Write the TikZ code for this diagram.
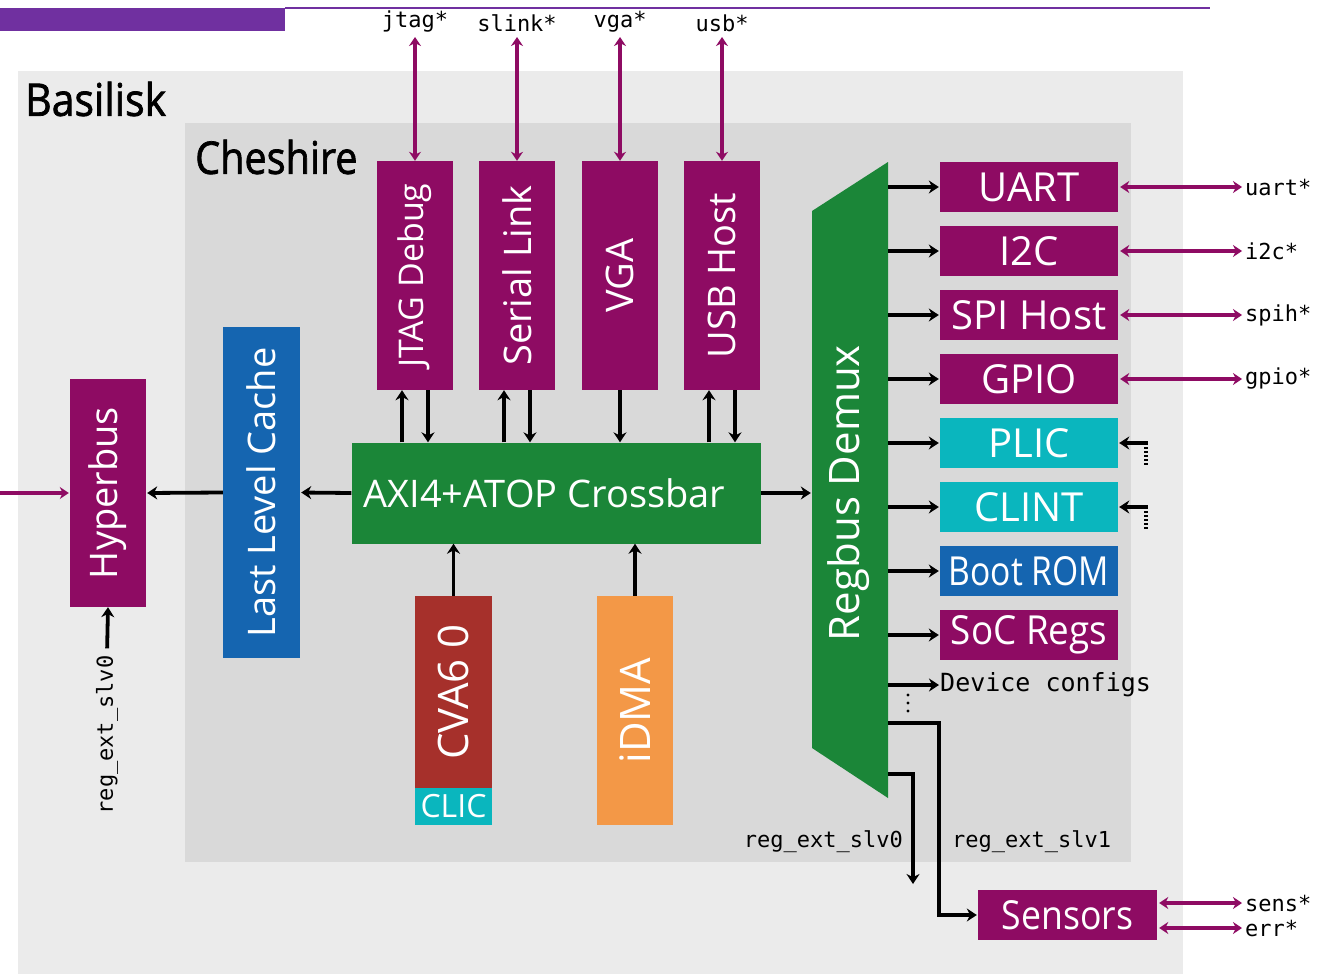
\documentclass[tikz,border=0pt]{standalone}
\usepackage{fontspec}
\setmainfont{Open Sans}
\newfontfamily\titlef{Open Sans}[FakeBold=1.6]
\newfontfamily\monof{DejaVu Sans Mono}
\usetikzlibrary{arrows.meta,calc}
\definecolor{purp}{HTML}{8E0B63}
\definecolor{topbar}{HTML}{7030A0}
\definecolor{cyanb}{HTML}{0AB6BE}
\definecolor{blueb}{HTML}{1565B0}
\definecolor{greenb}{HTML}{1B8638}
\definecolor{redb}{HTML}{A6302B}
\definecolor{orangeb}{HTML}{F39847}
\definecolor{basgray}{HTML}{EBEBEB}
\definecolor{chegray}{HTML}{D9D9D9}
\tikzset{
  blk/.style={rectangle, inner sep=0pt, text=white, font=\fontsize{40}{44}\selectfont},
  vlab/.style={rotate=90, text=white, inner sep=0pt, font=\fontsize{38}{42}\selectfont},
  title/.style={inner sep=0pt, font=\titlef\fontsize{45}{48}\selectfont},
  mono/.style={inner sep=1pt, font=\monof\fontsize{22}{24}\selectfont},
  barrow/.style={draw=black, line width=3.8pt, -{Stealth[length=10pt,width=13pt]}},
  parrow/.style={draw=purp, line width=3.2pt, {Stealth[length=9pt,width=12pt]}-{Stealth[length=9pt,width=12pt]}},
  parrowone/.style={draw=purp, line width=3.2pt, -{Stealth[length=9pt,width=12pt]}},
}
\begin{document}
\begin{tikzpicture}[x=1pt,y=-1pt]
\useasboundingbox (0,0) rectangle (1327,974);
% backgrounds
\fill[topbar] (0,8) rectangle (285,31);
\draw[topbar, line width=2pt] (285,8.5) -- (1210,8.5);
\fill[basgray] (18,71) rectangle (1183,974);
\fill[chegray] (185,123) rectangle (1131,862);
\node[title, anchor=west] (basl) at (25,99) {\scalebox{0.91}[1]{Basilisk}};
\node[title, anchor=west] (ches) at (195,157) {\scalebox{0.88}[1]{Cheshire}};

% left blocks
\node[blk, fill=purp, minimum width=76pt, minimum height=228pt] (hyper) at (108,493) {};
\node[vlab] (hypert) at (hyper.center) {Hyperbus};
\node[blk, fill=blueb, minimum width=77pt, minimum height=331pt] (llc) at (261.5,492.5) {};
\node[vlab] (llct) at (llc.center) {Last Level Cache};

% top blocks
\node[blk, fill=purp, minimum width=76pt, minimum height=229pt] (jtag) at (415,275.5) {};
\node[vlab, font=\fontsize{34}{38}\selectfont] (jtagt) at (jtag.center) {JTAG Debug};
\node[blk, fill=purp, minimum width=76pt, minimum height=229pt] (slink) at (517,275.5) {};
\node[vlab] (slinkt) at (slink.center) {Serial Link};
\node[blk, fill=purp, minimum width=76pt, minimum height=229pt] (vga) at (620,275.5) {};
\node[vlab] (vgat) at (vga.center) {VGA};
\node[blk, fill=purp, minimum width=76pt, minimum height=229pt] (usb) at (722,275.5) {};
\node[vlab] (usbt) at (usb.center) {USB Host};

% crossbar
\node[blk, fill=greenb, minimum width=409pt, minimum height=101pt] (xbar) at (556,493) {};
\node[blk, anchor=west, font=\fontsize{38}{42}\selectfont] (xbart) at ([xshift=12pt]xbar.west) {AXI4+ATOP Crossbar};

% cores
\node[blk, fill=redb, minimum width=77pt, minimum height=192pt] (cva) at (453.5,692) {};
\node[vlab, font=\fontsize{42}{46}\selectfont] (cvat) at (cva.center) {CVA6 0};
\node[blk, fill=cyanb, minimum width=77pt, minimum height=37pt, font=\fontsize{32}{34}\selectfont] (clic) at (453.5,806.5) {CLIC};
\node[blk, fill=orangeb, minimum width=76pt, minimum height=229pt] (idma) at (635,710.5) {};
\node[vlab, font=\fontsize{42}{46}\selectfont] (idmat) at (idma.center) {iDMA};

% regbus demux
\node[inner sep=0pt, minimum width=76pt, minimum height=637pt] (demux) at (850,480.5) {};
\fill[greenb] (812,211) -- (888,162) -- (888,798) -- (812,748) -- cycle;
\node[vlab, font=\fontsize{42}{46}\selectfont] (demuxt) at (849,493) {Regbus Demux};

% peripherals
\node[blk, fill=purp, minimum width=178pt, minimum height=50pt] (uart) at (1029,187) {UART};
\node[blk, fill=purp, minimum width=178pt, minimum height=50pt] (i2c) at (1029,251) {I2C};
\node[blk, fill=purp, minimum width=178pt, minimum height=50pt] (spi) at (1029,315) {SPI Host};
\node[blk, fill=purp, minimum width=178pt, minimum height=50pt] (gpio) at (1029,379) {GPIO};
\node[blk, fill=cyanb, minimum width=178pt, minimum height=50pt] (plic) at (1029,443) {PLIC};
\node[blk, fill=cyanb, minimum width=178pt, minimum height=50pt] (clint) at (1029,507) {CLINT};
\node[blk, fill=blueb, minimum width=178pt, minimum height=50pt] (brom) at (1029,571) {\scalebox{0.84}[1]{Boot ROM}};
\node[blk, fill=purp, minimum width=178pt, minimum height=50pt] (socr) at (1029,635) {\scalebox{0.92}[1]{SoC Regs}};
\node[blk, fill=purp, minimum width=179pt, minimum height=50pt] (sens) at (1067.5,915) {\scalebox{0.89}[1]{Sensors}};

% mono labels
\node[mono, anchor=south] (jtagl) at (415,33) {jtag*};
\node[mono, anchor=south] (slinkl) at (517,33) {slink*};
\node[mono, anchor=south] (vgal) at (620,33) {vga*};
\node[mono, anchor=south] (usbl) at (722,33) {usb*};
\node[mono, anchor=west] (uartl) at (1244,187) {uart*};
\node[mono, anchor=west] (i2cl) at (1244,251) {i2c*};
\node[mono, anchor=west] (spil) at (1244,315) {spih*};
\node[mono, anchor=west] (gpiol) at (1244,379) {gpio*};
\node[mono, anchor=west] (sensl) at (1244,903) {sens*};
\node[mono, anchor=west] (errl) at (1244,928) {err*};
\node[mono, anchor=west, font=\monof\fontsize{25}{27}\selectfont] (devc) at (939,685) {Device configs};
\node[mono, anchor=east] (rs0) at (904,842) {reg\_ext\_slv0};
\node[mono, anchor=west] (rs1) at (951,842) {reg\_ext\_slv1};
\node[mono, rotate=90] (rxl) at (107,735) {reg\_ext\_slv0};

% external purple arrows
\draw[parrow, shorten <=4pt] (jtagl.south) -- (jtag.north);
\draw[parrow, shorten <=4pt] (slinkl.south) -- (slink.north);
\draw[parrow, shorten <=4pt] (vgal.south) -- (vga.north);
\draw[parrow, shorten <=4pt] (usbl.south) -- (usb.north);
\draw[parrow, shorten <=2pt, shorten >=2pt] (uart.east) -- (uartl.west);
\draw[parrow, shorten <=2pt, shorten >=2pt] (i2c.east) -- (i2cl.west);
\draw[parrow, shorten <=2pt, shorten >=2pt] (spi.east) -- (spil.west);
\draw[parrow, shorten <=2pt, shorten >=2pt] (gpio.east) -- (gpiol.west);
\draw[parrow, shorten <=2pt, shorten >=2pt] (sensl.west -| sens.east) -- (sensl.west);
\draw[parrow, shorten <=2pt, shorten >=2pt] (errl.west -| sens.east) -- (errl.west);
\coordinate (hin) at (0,493);
\draw[parrowone, shorten >=1pt] (hin) -- (hyper.west);

% main horizontal datapath
\draw[barrow, shorten >=1pt] (llc.west) -- (hyper.east);
\draw[barrow, shorten >=1pt] (xbar.west) -- (llc.east);
\draw[barrow, shorten >=1pt] (xbar.east) -- (demux.west |- xbar.east);
\draw[barrow, shorten <=6pt] (rxl.east) -- (hyper.south);

% crossbar <-> top blocks
\coordinate (j1) at ([xshift=-13pt]jtag.south);
\coordinate (j2) at ([xshift=13pt]jtag.south);
\coordinate (s1) at ([xshift=-13pt]slink.south);
\coordinate (s2) at ([xshift=13pt]slink.south);
\coordinate (u1) at ([xshift=-13pt]usb.south);
\coordinate (u2) at ([xshift=13pt]usb.south);
\draw[barrow, line width=3.3pt] (j1 |- xbar.north) -- (j1);
\draw[barrow, line width=3.3pt] (j2) -- (j2 |- xbar.north);
\draw[barrow, line width=3.3pt] (s1 |- xbar.north) -- (s1);
\draw[barrow, line width=3.3pt] (s2) -- (s2 |- xbar.north);
\draw[barrow, line width=3.3pt] (vga.south) -- (vga.south |- xbar.north);
\draw[barrow, line width=3.3pt] (u1 |- xbar.north) -- (u1);
\draw[barrow, line width=3.3pt] (u2) -- (u2 |- xbar.north);

% cores -> crossbar
\draw[barrow, line width=3.3pt] (cva.north) -- (cva.north |- xbar.south);
\draw[barrow, line width=3.3pt] (idma.north) -- (idma.north |- xbar.south);

% demux -> peripherals
\foreach \p in {uart,i2c,spi,gpio,plic,clint,brom,socr}
  \draw[barrow, shorten >=1pt] (demux.east |- \p.west) -- (\p.west);
\draw[barrow] (demux.east |- devc.west) -- (devc.west);
\fill (908,695) circle (1.6pt);
\fill (908,703) circle (1.6pt);
\fill (908,711) circle (1.6pt);

% interrupt inputs
\coordinate (pi) at (1146,443);
\coordinate (ci) at (1146,507);
\draw[barrow, shorten >=1pt] ([xshift=1.9pt]pi) -- (plic.east);
\draw[barrow, shorten >=1pt] ([xshift=1.9pt]ci) -- (clint.east);
\draw[line width=3.8pt, dash pattern=on 2pt off 2pt] (pi) -- ++(0,23);
\draw[line width=3.8pt, dash pattern=on 2pt off 2pt] (ci) -- ++(0,23);

% external reg ports
\coordinate (e1a) at (demux.east |- 0,723);
\coordinate (e1b) at (939,723);
\draw[barrow, shorten >=1pt] (e1a) -- (e1b) |- (sens.west);
\coordinate (e0a) at (demux.east |- 0,774);
\coordinate (e0b) at (913,774);
\coordinate (e0c) at (913,884);
\draw[barrow] (e0a) -- (e0b) -- (e0c);
\end{tikzpicture}
\end{document}
